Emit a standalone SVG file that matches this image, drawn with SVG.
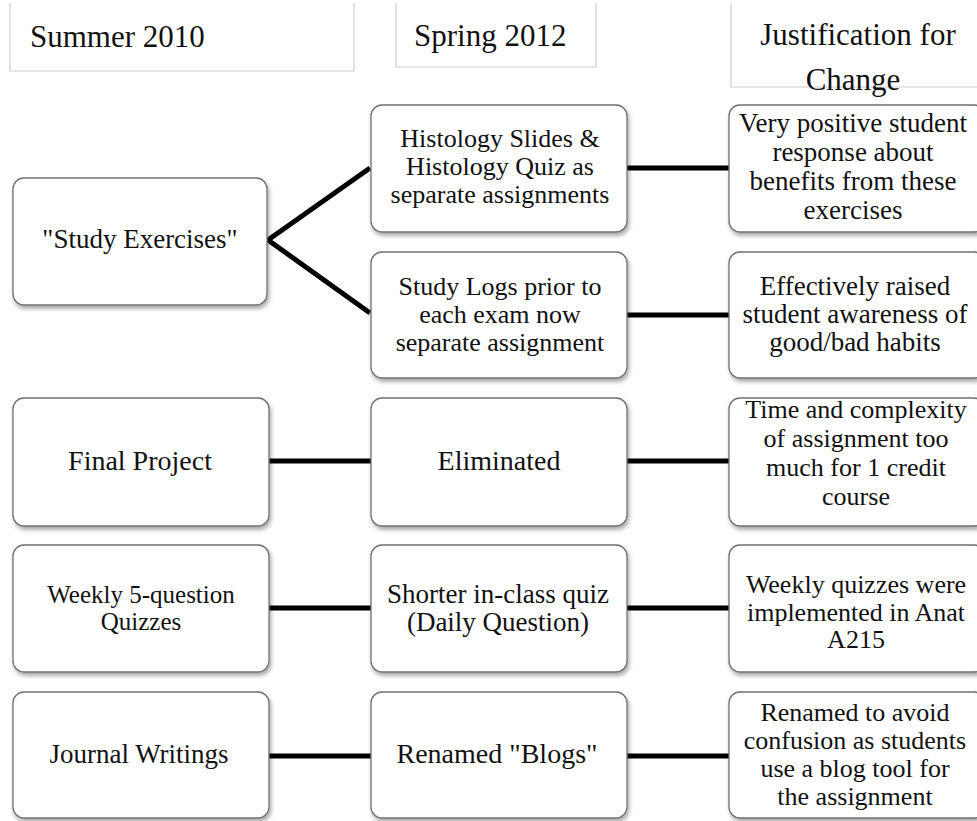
<svg xmlns="http://www.w3.org/2000/svg" width="977" height="821" viewBox="0 0 977 821">
<style>
  .hdr { fill: none; stroke: #cfcfcf; stroke-width: 1.2; }
  .ht { font-family: "Liberation Serif", "Times New Roman", serif; font-size: 31px; fill: #111; }
  .box { fill: #fff; stroke: #707070; stroke-width: 1.3; filter: url(#sh); }
  .t { font-family: "Liberation Serif", "Times New Roman", serif; fill: #111; text-anchor: middle; }
  .conn { stroke: #000; stroke-width: 5; fill: none; stroke-linecap: butt; stroke-linejoin: miter; }
</style>
<defs>
  <filter id="sh" x="-10%" y="-10%" width="125%" height="130%">
    <feDropShadow dx="1.5" dy="3" stdDeviation="2" flood-color="#000" flood-opacity="0.35"/>
  </filter>
</defs>
<rect width="977" height="821" fill="#fff"/>

<g id="headers">
  <path class="hdr" d="M10,3 V71 H354 V3"/>
  <text class="ht" x="30" y="47">Summer 2010</text>
  <path class="hdr" d="M396,3 V67 H596 V3"/>
  <text class="ht" x="414" y="46">Spring 2012</text>
  <path class="hdr" d="M731,3 V87 H980"/>
  <text class="ht" x="858" y="45" text-anchor="middle" font-size="32">Justification for</text>
  <text class="ht" x="853" y="90" text-anchor="middle" font-size="32">Change</text>
</g>

<g id="connectors">
  <polyline class="conn" points="370,168 268,240 370,313"/>
  <line class="conn" x1="627" y1="168" x2="729" y2="168"/>
  <line class="conn" x1="627" y1="315" x2="729" y2="315"/>
  <line class="conn" x1="269" y1="461" x2="371" y2="461"/>
  <line class="conn" x1="627" y1="461" x2="729" y2="461"/>
  <line class="conn" x1="269" y1="608" x2="371" y2="608"/>
  <line class="conn" x1="627" y1="608" x2="729" y2="608"/>
  <line class="conn" x1="269" y1="756" x2="371" y2="756"/>
  <line class="conn" x1="627" y1="756" x2="729" y2="756"/>
</g>

<g id="n-study-exercises">
  <rect class="box" x="13" y="178" width="254" height="127" rx="11"/>
  <text class="t" x="140" y="248" font-size="27">"Study Exercises"</text>
</g>
<g id="n-histology">
  <rect class="box" x="371" y="105" width="256" height="127" rx="11"/>
  <text class="t" x="500" y="147" font-size="26">Histology Slides &amp;</text>
  <text class="t" x="500" y="175" font-size="26">Histology Quiz as</text>
  <text class="t" x="500" y="203" font-size="26">separate assignments</text>
</g>
<g id="n-study-logs">
  <rect class="box" x="371" y="252" width="256" height="126" rx="11"/>
  <text class="t" x="500" y="295" font-size="26">Study Logs prior to</text>
  <text class="t" x="500" y="323" font-size="26">each exam now</text>
  <text class="t" x="500" y="351" font-size="26">separate assignment</text>
</g>
<g id="n-very-positive">
  <rect class="box" x="729" y="105" width="256" height="127" rx="11"/>
  <text class="t" x="853" y="132" font-size="27">Very positive student</text>
  <text class="t" x="853" y="161" font-size="27">response about</text>
  <text class="t" x="853" y="190" font-size="27">benefits from these</text>
  <text class="t" x="853" y="219" font-size="27">exercises</text>
</g>
<g id="n-effectively">
  <rect class="box" x="729" y="252" width="256" height="126" rx="11"/>
  <text class="t" x="855" y="295" font-size="27">Effectively raised</text>
  <text class="t" x="855" y="323" font-size="27">student awareness of</text>
  <text class="t" x="855" y="351" font-size="27">good/bad habits</text>
</g>

<g id="n-final-project">
  <rect class="box" x="13" y="398" width="256" height="128" rx="11"/>
  <text class="t" x="140" y="470" font-size="28">Final Project</text>
</g>
<g id="n-eliminated">
  <rect class="box" x="371" y="398" width="256" height="128" rx="11"/>
  <text class="t" x="499" y="470" font-size="28">Eliminated</text>
</g>
<g id="n-time">
  <rect class="box" x="729" y="398" width="256" height="128" rx="11"/>
  <text class="t" x="856" y="418" font-size="26">Time and complexity</text>
  <text class="t" x="856" y="447" font-size="26">of assignment too</text>
  <text class="t" x="856" y="476" font-size="26">much for 1 credit</text>
  <text class="t" x="856" y="505" font-size="26">course</text>
</g>

<g id="n-weekly">
  <rect class="box" x="13" y="545" width="256" height="127" rx="11"/>
  <text class="t" x="141" y="603" font-size="25">Weekly 5-question</text>
  <text class="t" x="141" y="630" font-size="25">Quizzes</text>
</g>
<g id="n-shorter">
  <rect class="box" x="371" y="545" width="256" height="127" rx="11"/>
  <text class="t" x="498" y="603" font-size="27">Shorter in-class quiz</text>
  <text class="t" x="498" y="631" font-size="27">(Daily Question)</text>
</g>
<g id="n-weekly-quizzes">
  <rect class="box" x="729" y="545" width="256" height="127" rx="11"/>
  <text class="t" x="856" y="593" font-size="26">Weekly quizzes were</text>
  <text class="t" x="856" y="620.5" font-size="26">implemented in Anat</text>
  <text class="t" x="856" y="648" font-size="26">A215</text>
</g>

<g id="n-journal">
  <rect class="box" x="13" y="692" width="256" height="126" rx="11"/>
  <text class="t" x="139" y="763" font-size="27">Journal Writings</text>
</g>
<g id="n-blogs">
  <rect class="box" x="371" y="692" width="256" height="126" rx="11"/>
  <text class="t" x="497" y="763" font-size="28">Renamed "Blogs"</text>
</g>
<g id="n-renamed">
  <rect class="box" x="729" y="692" width="256" height="126" rx="11"/>
  <text class="t" x="855" y="721" font-size="26">Renamed to avoid</text>
  <text class="t" x="855" y="749" font-size="26">confusion as students</text>
  <text class="t" x="855" y="777" font-size="26">use a blog tool for</text>
  <text class="t" x="855" y="805" font-size="26">the assignment</text>
</g>
</svg>
